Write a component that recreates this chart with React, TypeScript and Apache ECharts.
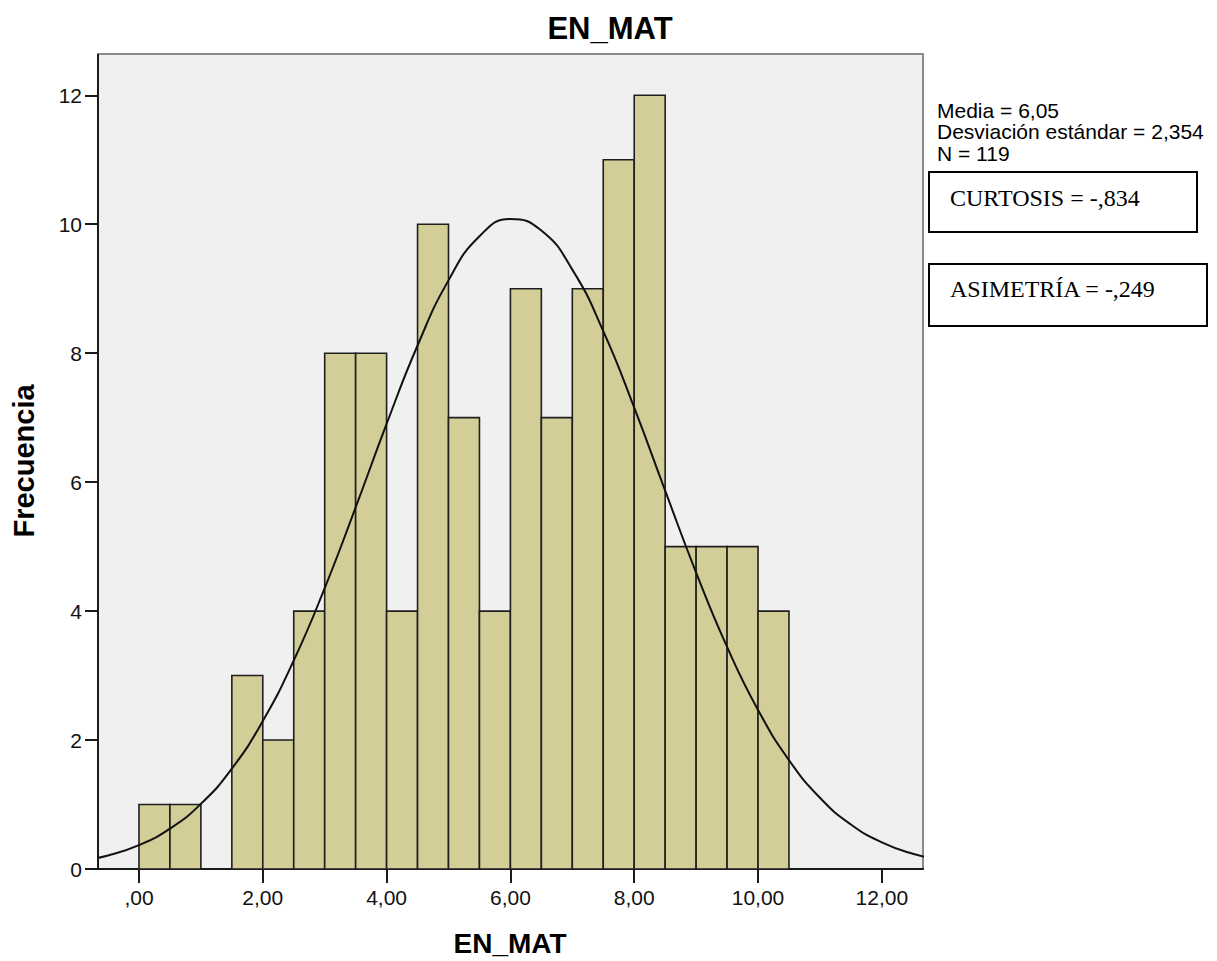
import { useEffect, useRef } from "react";
import * as echarts from "echarts";

// Histogram bins (start values, width 0.5) and frequencies
const binStarts = [0, 0.5, 1.0, 1.5, 2.0, 2.5, 3.0, 3.5, 4.0, 4.5, 5.0, 5.5, 6.0, 6.5, 7.0, 7.5, 8.0, 8.5, 9.0, 9.5, 10.0];
const binWidth = 0.5;
const frequencies = [1, 1, 0, 3, 2, 4, 8, 8, 4, 10, 7, 4, 9, 7, 9, 11, 12, 5, 5, 5, 4];

// Normal curve points
const curveX = [-1.0, -0.5, 0, 0.5, 1.0, 1.5, 2.0, 2.5, 3.0, 3.5, 4.0, 4.5, 5.0, 5.5, 6.0, 6.5, 7.0, 7.5, 8.0, 8.5, 9.0, 9.5, 10.0, 10.5, 11.0, 11.5, 12.0, 12.5, 13.0];
const curveY = [0.114, 0.21, 0.371, 0.626, 1.01, 1.557, 2.295, 3.234, 4.356, 5.608, 6.902, 8.119, 9.129, 9.813, 10.082, 9.902, 9.296, 8.342, 7.156, 5.867, 4.598, 3.445, 2.467, 1.689, 1.105, 0.691, 0.413, 0.236, 0.129];

const xTicks = [0, 2, 4, 6, 8, 10, 12];
const yTicks = [0, 2, 4, 6, 8, 10, 12];

const titleText = "EN_MAT";
const xName = "EN_MAT";
const yName = "Frecuencia";
const statsLines = ["Media = 6,05", "Desviación estándar = 2,354", "N = 119"];
const boxTexts = ["CURTOSIS = -,834", "ASIMETRÍA = -,249"];

const SANS = '"Liberation Sans", Arial, sans-serif';
const SERIF = '"Liberation Serif", "Times New Roman", serif';

export default function App() {
  const ref = useRef<HTMLDivElement>(null);

  useEffect(() => {
    if (!ref.current) return;
    const chart = echarts.init(ref.current, null, { renderer: "svg" });

    const barData = binStarts.map((s, i) => [s, s + binWidth, frequencies[i]]);
    const curveData = curveX.map((x, i) => [x, curveY[i]]);
    const statsY = [99.5, 121, 142.5];

    const option: any = {
      animation: false,
      backgroundColor: "#ffffff",
      grid: {
        left: 98,
        top: 54,
        right: 294,
        bottom: 92,
        show: true,
        backgroundColor: "#F0F0F0",
        borderColor: "#8a8a8a",
        borderWidth: 2,
      },
      xAxis: {
        type: "value",
        min: -0.662,
        max: 12.665,
        axisLine: { show: true, onZero: false, lineStyle: { color: "#1a1a1a", width: 2 } },
        axisTick: { show: true, length: 14, lineStyle: { color: "#1a1a1a", width: 2 }, customValues: xTicks },
        axisLabel: {
          customValues: xTicks,
          margin: 18,
          fontSize: 21,
          fontFamily: SANS,
          color: "#111",
          formatter: (v: number) => (v === 0 ? ",00" : v.toFixed(2).replace(".", ",")),
        },
        splitLine: { show: false },
      },
      yAxis: {
        type: "value",
        min: 0,
        max: 12.64,
        axisLine: { show: false, onZero: false },
        axisTick: { show: true, length: 13, lineStyle: { color: "#1a1a1a", width: 2 }, customValues: yTicks },
        axisLabel: {
          customValues: yTicks,
          margin: 16,
          fontSize: 21,
          fontFamily: SANS,
          color: "#111",
          formatter: (v: number) => String(v),
        },
        splitLine: { show: false },
      },
      series: [
        {
          type: "custom",
          data: barData,
          encode: { x: [0, 1], y: 2 },
          renderItem: (params: any, api: any) => {
            const x0 = api.value(0);
            const x1 = api.value(1);
            const y = api.value(2);
            if (!y) return { type: "group", children: [] };
            const p0 = api.coord([x0, y]);
            const p1 = api.coord([x1, 0]);
            return {
              type: "rect",
              shape: { x: p0[0], y: p0[1], width: p1[0] - p0[0], height: p1[1] - p0[1] },
              style: { fill: "#D3CE97", stroke: "#1f1f1f", lineWidth: 1.6 },
            };
          },
          z: 2,
        },
        {
          type: "line",
          data: curveData,
          smooth: true,
          showSymbol: false,
          symbol: "none",
          clip: true,
          lineStyle: { color: "#111", width: 2 },
          z: 3,
        },
      ],
      graphic: [
        {
          type: "line",
          shape: { x1: 98, y1: 54, x2: 98, y2: 870 },
          style: { stroke: "#1a1a1a", lineWidth: 2 },
          z: 10,
        },
        {
          type: "text",
          x: 610,
          y: 28,
          style: { text: titleText, font: `bold 31px ${SANS}`, fill: "#000", align: "center", verticalAlign: "middle" },
        },
        {
          type: "text",
          x: 510,
          y: 943,
          style: { text: xName, font: `bold 28px ${SANS}`, fill: "#000", align: "center", verticalAlign: "middle" },
        },
        {
          type: "text",
          x: 24,
          y: 461,
          rotation: Math.PI / 2,
          style: { text: yName, font: `bold 29px ${SANS}`, fill: "#000", align: "center", verticalAlign: "middle" },
        },
        ...statsLines.map((t, i) => ({
          type: "text",
          x: 937,
          y: statsY[i],
          style: { text: t, font: `21px ${SANS}`, lineHeight: 21, fill: "#000", align: "left", verticalAlign: "top" },
        })),
        {
          type: "rect",
          shape: { x: 929, y: 172, width: 268, height: 60 },
          style: { fill: "#fff", stroke: "#000", lineWidth: 2 },
        },
        {
          type: "text",
          x: 950,
          y: 197.5,
          style: { text: boxTexts[0], font: `24px ${SERIF}`, fill: "#000", align: "left", verticalAlign: "middle" },
        },
        {
          type: "rect",
          shape: { x: 929, y: 264, width: 278, height: 62 },
          style: { fill: "#fff", stroke: "#000", lineWidth: 2 },
        },
        {
          type: "text",
          x: 950,
          y: 289,
          style: { text: boxTexts[1], font: `24px ${SERIF}`, fill: "#000", align: "left", verticalAlign: "middle" },
        },
      ],
    };

    chart.setOption(option);
    return () => chart.dispose();
  }, []);

  return (
    <div
      ref={ref}
      style={{ position: "absolute", left: 0, top: 0, width: 1217, height: 961, background: "#fff" }}
    />
  );
}
